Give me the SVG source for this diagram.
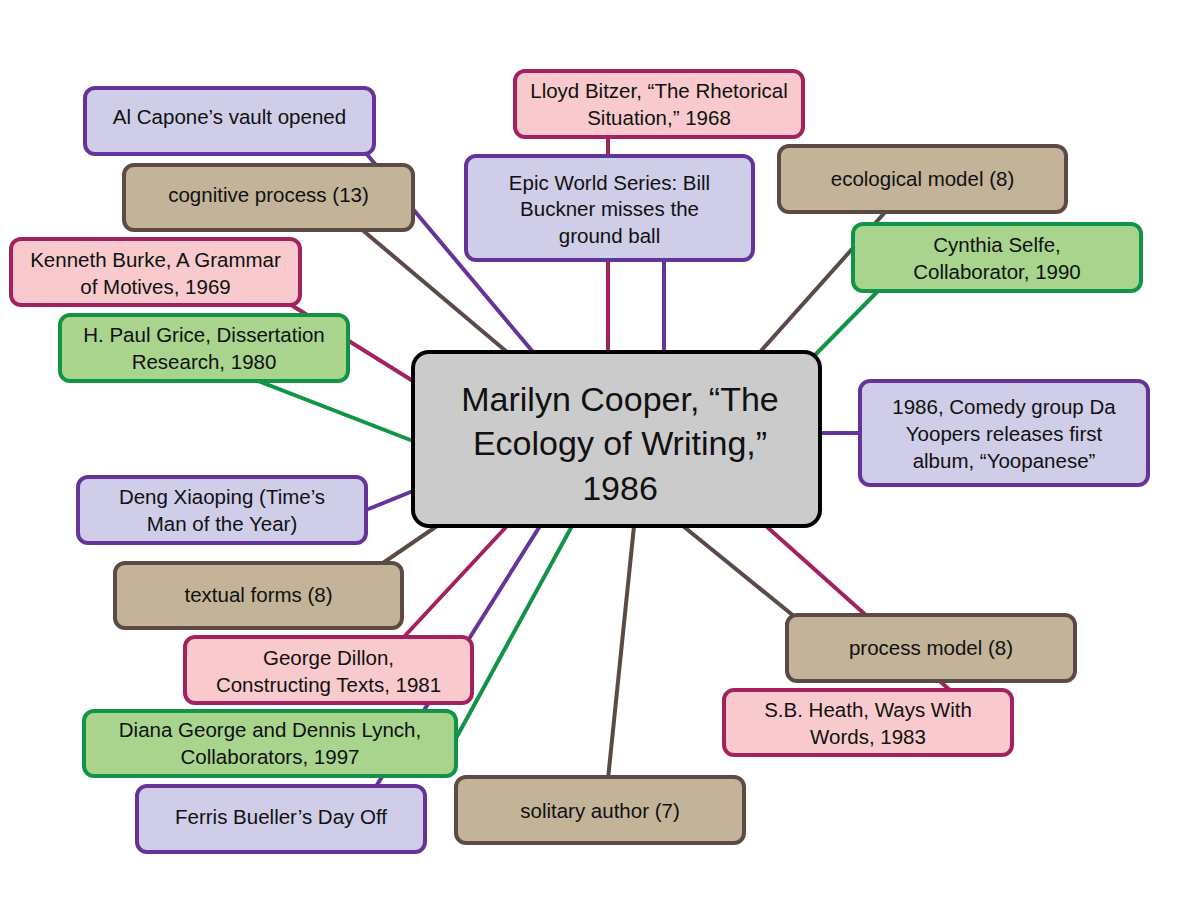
<svg xmlns="http://www.w3.org/2000/svg" width="1204" height="904" viewBox="0 0 1204 904">
<style>
rect{stroke-width:4}
.p{fill:#cfcde8;stroke:#663399}
.k{fill:#f8cacd;stroke:#a3215f}
.g{fill:#a8d48e;stroke:#129447}
.b{fill:#c2b399;stroke:#5b4b44}
.c{fill:#cbcbcb;stroke:#000}
text{font-family:"Liberation Sans",Arial,sans-serif;font-size:20.5px;fill:#111;text-anchor:middle}
.t{font-size:34px}
line{stroke-width:4}
.lp{stroke:#663399}.lk{stroke:#a3215f}.lg{stroke:#129447}.lb{stroke:#5b4b44}
</style>
<rect width="1204" height="904" fill="#fff"/>
<g id="connectors">
<line class="lp" x1="365" y1="152" x2="533" y2="352"/>
<line class="lb" x1="360" y1="228" x2="507" y2="352"/>
<line class="lk" x1="288" y1="303" x2="413" y2="381"/>
<line class="lg" x1="253" y1="379" x2="413" y2="441"/>
<line class="lk" x1="608" y1="135" x2="608" y2="352"/>
<line class="lp" x1="664" y1="258" x2="664" y2="352"/>
<line class="lb" x1="887" y1="210" x2="760" y2="352"/>
<line class="lg" x1="880" y1="289" x2="815" y2="355"/>
<line class="lp" x1="820" y1="433" x2="860" y2="433"/>
<line class="lp" x1="366" y1="510" x2="413" y2="491"/>
<line class="lb" x1="380" y1="565" x2="437" y2="526"/>
<line class="lk" x1="402" y1="639" x2="507" y2="526"/>
<line class="lp" x1="540" y1="526" x2="375" y2="788"/>
<line class="lg" x1="572" y1="526" x2="454" y2="742"/>
<line class="lb" x1="634" y1="526" x2="608" y2="779"/>
<line class="lb" x1="683" y1="526" x2="795" y2="617"/>
<line class="lk" x1="766" y1="526" x2="952" y2="692"/>
</g>
<g id="n-capone"><rect class="p" x="85" y="88" width="289" height="66" rx="10"/><text x="229.5" y="124">Al Capone’s vault opened</text></g>
<g id="n-cognitive"><rect class="b" x="124" y="165" width="289" height="65" rx="10"/><text x="268.5" y="202">cognitive process (13)</text></g>
<g id="n-bitzer"><rect class="k" x="515" y="71" width="288" height="66" rx="10"/><text x="659" y="98">Lloyd Bitzer, “The Rhetorical</text><text x="659" y="125">Situation,” 1968</text></g>
<g id="n-epic"><rect class="p" x="466" y="156" width="287" height="104" rx="10"/><text x="609.5" y="190">Epic World Series: Bill</text><text x="609.5" y="216">Buckner misses the</text><text x="609.5" y="243">ground ball</text></g>
<g id="n-ecological"><rect class="b" x="779" y="146" width="287" height="66" rx="10"/><text x="922.5" y="186">ecological model (8)</text></g>
<g id="n-selfe"><rect class="g" x="853" y="224" width="288" height="67" rx="10"/><text x="997" y="252">Cynthia Selfe,</text><text x="997" y="279">Collaborator, 1990</text></g>
<g id="n-burke"><rect class="k" x="11" y="239" width="289" height="66" rx="10"/><text x="155.5" y="267">Kenneth Burke, A Grammar</text><text x="155.5" y="294">of Motives, 1969</text></g>
<g id="n-grice"><rect class="g" x="60" y="315" width="288" height="66" rx="10"/><text x="204" y="342">H. Paul Grice, Dissertation</text><text x="204" y="369">Research, 1980</text></g>
<g id="n-center"><rect class="c" x="413" y="352" width="407" height="174" rx="16"/><text class="t" x="620" y="411">Marilyn Cooper, “The</text><text class="t" x="620" y="455">Ecology of Writing,”</text><text class="t" x="620" y="500">1986</text></g>
<g id="n-yoopers"><rect class="p" x="860" y="381" width="288" height="104" rx="10"/><text x="1004" y="414">1986, Comedy group Da</text><text x="1004" y="441">Yoopers releases first</text><text x="1004" y="468">album, “Yoopanese”</text></g>
<g id="n-deng"><rect class="p" x="78" y="477" width="288" height="66" rx="10"/><text x="222" y="504">Deng Xiaoping (Time’s</text><text x="222" y="531">Man of the Year)</text></g>
<g id="n-textual"><rect class="b" x="115" y="563" width="287" height="65" rx="10"/><text x="258.5" y="602">textual forms (8)</text></g>
<g id="n-dillon"><rect class="k" x="185" y="637" width="287" height="66" rx="10"/><text x="328.5" y="665">George Dillon,</text><text x="328.5" y="692">Constructing Texts, 1981</text></g>
<g id="n-george"><rect class="g" x="84" y="711" width="372" height="65" rx="10"/><text x="270" y="737">Diana George and Dennis Lynch,</text><text x="270" y="764">Collaborators, 1997</text></g>
<g id="n-ferris"><rect class="p" x="137" y="786" width="288" height="66" rx="10"/><text x="281" y="824">Ferris Bueller’s Day Off</text></g>
<g id="n-solitary"><rect class="b" x="456" y="777" width="288" height="66" rx="10"/><text x="600" y="818">solitary author (7)</text></g>
<g id="n-process"><rect class="b" x="787" y="615" width="288" height="66" rx="10"/><text x="931" y="655">process model (8)</text></g>
<g id="n-heath"><rect class="k" x="724" y="690" width="288" height="65" rx="10"/><text x="868" y="717">S.B. Heath, Ways With</text><text x="868" y="744">Words, 1983</text></g>
</svg>
